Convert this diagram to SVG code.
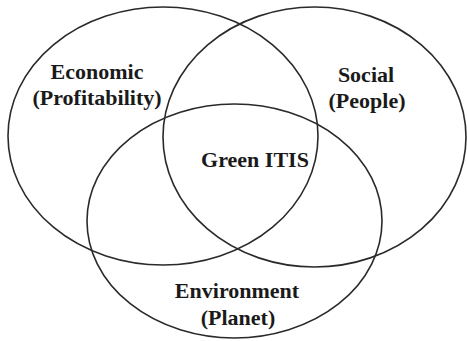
<svg xmlns="http://www.w3.org/2000/svg" width="467" height="341" viewBox="0 0 467 341">
<style>
.c{fill:none;stroke:#2a2a2a;stroke-width:1.6}
.t{font-family:'Liberation Serif','Times New Roman','DejaVu Serif',serif;font-weight:700;font-size:22px;fill:#1a1a1a;text-anchor:middle}
</style>
<rect width="467" height="341" fill="#fff"/>
<g id="economic">
<ellipse class="c" cx="163" cy="136" rx="155" ry="129"/>
<text class="t" font-family="Liberation Serif, serif" x="97" y="79">Economic</text>
<text class="t" font-family="Liberation Serif, serif" x="97" y="105">(Profitability)</text>
</g>
<g id="social">
<ellipse class="c" cx="314.5" cy="137" rx="151.5" ry="130"/>
<text class="t" font-family="Liberation Serif, serif" x="366" y="82">Social</text>
<text class="t" font-family="Liberation Serif, serif" x="367" y="108">(People)</text>
</g>
<g id="environment">
<ellipse class="c" cx="234.5" cy="221" rx="147.5" ry="117"/>
<text class="t" font-family="Liberation Serif, serif" x="237" y="298">Environment</text>
<text class="t" font-family="Liberation Serif, serif" x="238" y="325">(Planet)</text>
</g>
<g id="green-itis">
<text class="t" font-family="Liberation Serif, serif" x="255" y="167">Green ITIS</text>
</g>
<g id="connectors"></g>
</svg>
